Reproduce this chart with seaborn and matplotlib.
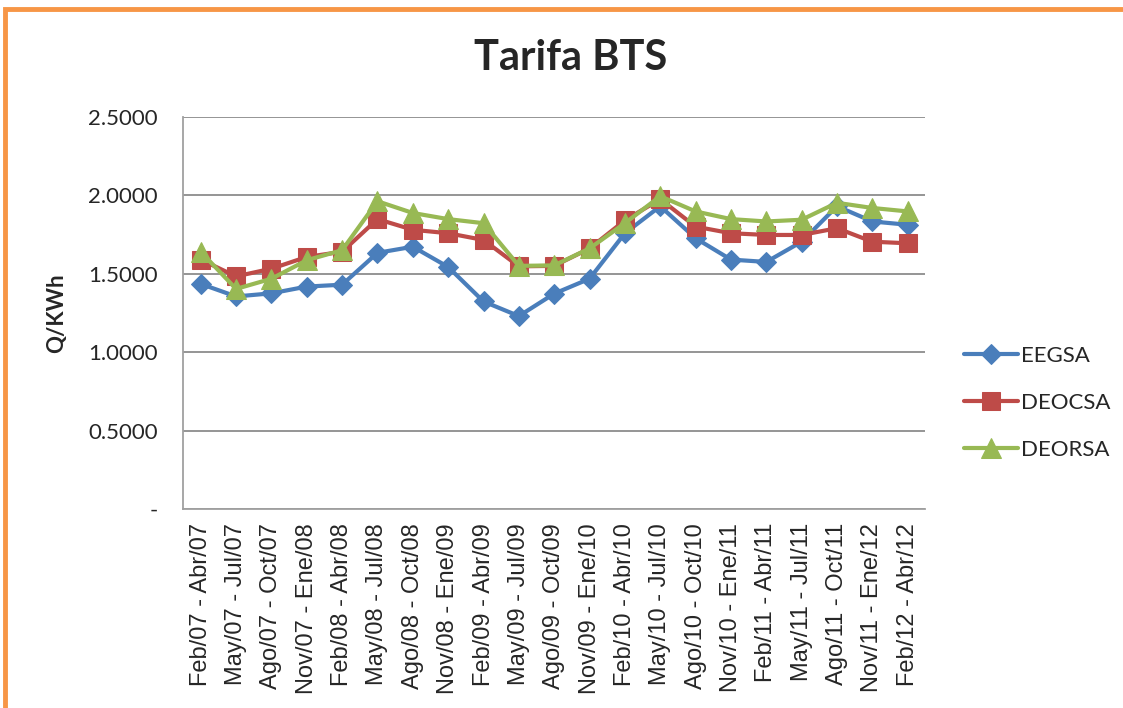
import matplotlib
matplotlib.use("Agg")
import matplotlib.pyplot as plt
import matplotlib.patches as mpatches
import seaborn as sns
import pandas as pd

periodos = ["Feb/07 - Abr/07", "May/07 - Jul/07", "Ago/07 - Oct/07", "Nov/07 - Ene/08",
            "Feb/08 - Abr/08", "May/08 - Jul/08", "Ago/08 - Oct/08", "Nov/08 - Ene/09",
            "Feb/09 - Abr/09", "May/09 - Jul/09", "Ago/09 - Oct/09", "Nov/09 - Ene/10",
            "Feb/10 - Abr/10", "May/10 - Jul/10", "Ago/10 - Oct/10", "Nov/10 - Ene/11",
            "Feb/11 - Abr/11", "May/11 - Jul/11", "Ago/11 - Oct/11", "Nov/11 - Ene/12",
            "Feb/12 - Abr/12"]

eegsa = [1.435, 1.355, 1.375, 1.418, 1.430, 1.633, 1.672, 1.543, 1.323, 1.230, 1.373,
         1.468, 1.758, 1.930, 1.726, 1.590, 1.575, 1.704, 1.930, 1.833, 1.812]
deocsa = [1.590, 1.483, 1.532, 1.607, 1.640, 1.848, 1.780, 1.758, 1.715, 1.547, 1.550,
          1.661, 1.840, 1.975, 1.800, 1.758, 1.747, 1.747, 1.790, 1.704, 1.694]
deorsa = [1.640, 1.403, 1.468, 1.586, 1.650, 1.962, 1.887, 1.848, 1.822, 1.550, 1.553,
          1.661, 1.822, 1.994, 1.897, 1.848, 1.833, 1.844, 1.952, 1.919, 1.897]

series = ["EEGSA", "DEOCSA", "DEORSA"]
colores = {"EEGSA": "#4A7EBB", "DEOCSA": "#BE4B48", "DEORSA": "#98B954"}
marcas = {"EEGSA": "D", "DEOCSA": "s", "DEORSA": "^"}
tam = {"EEGSA": 10, "DEOCSA": 13, "DEORSA": 14}

df = pd.DataFrame({"periodo": range(len(periodos)), "EEGSA": eegsa,
                   "DEOCSA": deocsa, "DEORSA": deorsa})
largo = df.melt(id_vars="periodo", var_name="empresa", value_name="valor")

sns.set_style("white")
plt.rcParams["font.family"] = ["Lato", "DejaVu Sans"]

fig = plt.figure(figsize=(11.23, 7.08), dpi=100)
ax = fig.add_axes([0.163, 0.281, 0.661, 0.554])

for emp in series:
    sns.lineplot(data=largo[largo["empresa"] == emp], x="periodo", y="valor",
                 color=colores[emp], marker=marcas[emp], markersize=tam[emp],
                 markeredgecolor=colores[emp], linewidth=3, sort=False,
                 label=emp, ax=ax, legend=False)

ax.set_xlim(-0.5, len(periodos) - 0.5)
ax.set_ylim(0, 2.5)
ax.set_yticks([0, 0.5, 1.0, 1.5, 2.0, 2.5])
ax.set_yticklabels(["-", "0.5000", "1.0000", "1.5000", "2.0000", "2.5000"], fontsize=16)
ax.set_xticks(range(len(periodos)))
ax.set_xticklabels(periodos, rotation=90, fontsize=17, family="Liberation Sans")
ax.tick_params(axis="x", length=0, pad=10)
ax.tick_params(axis="y", length=0, pad=18)
ax.yaxis.grid(True, color="#8C8C8C", linewidth=1.3)
ax.set_axisbelow(True)
for s in ["top", "right"]:
    ax.spines[s].set_visible(False)
for s in ["left", "bottom"]:
    ax.spines[s].set_color("#A0A0A0")
    ax.spines[s].set_linewidth(1.3)
ax.set_xlabel("")
ax.set_ylabel("Q/KWh", fontsize=16, fontweight="bold", labelpad=15)

fig.text(0.508, 0.918, "Tarifa BTS", ha="center", va="center", fontsize=30, fontweight="bold")

handles, labels = ax.get_legend_handles_labels()
fig.legend(handles, labels, loc="center left", bbox_to_anchor=(0.841, 0.431),
           frameon=False, fontsize=16, handlelength=2.4, labelspacing=1.2,
           handletextpad=0.15)

borde = mpatches.Rectangle((5 / 1123, -0.1), 1.2, 1.1 - 9 / 708, transform=fig.transFigure,
                           fill=False, edgecolor="#F79646", linewidth=3.5)
fig.patches.append(borde)

fig.savefig("out.png", dpi=100)
